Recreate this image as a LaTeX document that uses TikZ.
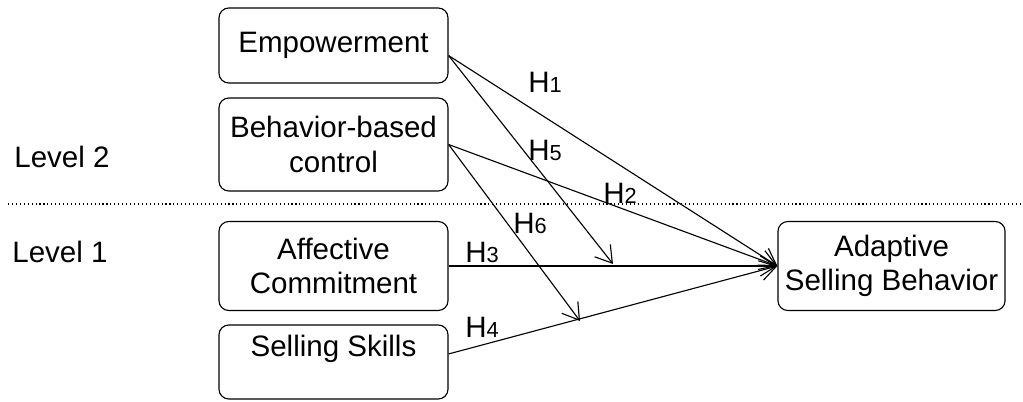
\documentclass[tikz,border=0pt]{standalone}
\usepackage{fontspec}
\setmainfont{Liberation Sans}
\usetikzlibrary{arrows.meta}

\tikzset{
  box/.style={draw, rounded corners=7pt, line width=0.8pt, inner sep=0pt,
    minimum width=5.725cm, align=center, font=\fontsize{21}{24.5}\selectfont},
  hyp/.style={-{Straight Barb[length=4mm,width=5mm,line width=0.8pt]}, line width=0.8pt},
  hlab/.style={font=\fontsize{21}{24}\selectfont, inner sep=0pt}
}
\newcommand{\hnum}[1]{H{\fontsize{15.5}{18}\selectfont #1}}

\begin{document}
\begin{tikzpicture}[x=0.025cm,y=-0.025cm]
        \useasboundingbox (0,0) rectangle (1023,401);

        % Level separator
        \draw[dotted, line width=0.8pt] (8,204) -- (1023,204);
        \node[hlab] (lvltwo) at (62,157) {Level 2};
        \node[hlab] (lvlone) at (60,252) {Level 1};

        % Predictors
        \node[box, minimum height=1.875cm] (emp) at (333.5,45.5) {Empowerment};
        \node[box, minimum height=2.325cm] (bbc) at (333.5,144.5) {Behavior-based\\control};
        \node[box, minimum height=2.225cm] (ac) at (333.5,266) {Affective\\Commitment};
        \node[box, minimum height=1.85cm] (ss) at (333.5,362) {Selling Skills\\[-2pt]~};

        % Outcome
        \node[box, minimum width=5.675cm, minimum height=2.225cm] (asb) at (891.5,266) {Adaptive\\Selling Behavior};

        % Ends of the moderating paths
        \coordinate (h5end) at (613,264);
        \coordinate (h6end) at (580,321);

        % Paths
        \draw[hyp] (emp.-5) -- (asb.west);
        \draw[hyp] (emp.-5) -- (h5end);
        \draw[hyp] (bbc.east) -- (asb.west);
        \draw[hyp] (bbc.east) -- (h6end);
        \draw[hyp] (ac.east) -- (asb.west);
        \draw[hyp] (ss.4) -- (asb.west);

        % Labels
        \node[hlab] (hone) at (545,82) {\hnum{1}};
        \node[hlab] (hfive) at (545,150) {\hnum{5}};
        \node[hlab] (htwo) at (620,193) {\hnum{2}};
        \node[hlab] (hsix) at (530,223) {\hnum{6}};
        \node[hlab] (hthree) at (482,252) {\hnum{3}};
        \node[hlab] (hfour) at (482,327) {\hnum{4}};
\end{tikzpicture}
\end{document}
